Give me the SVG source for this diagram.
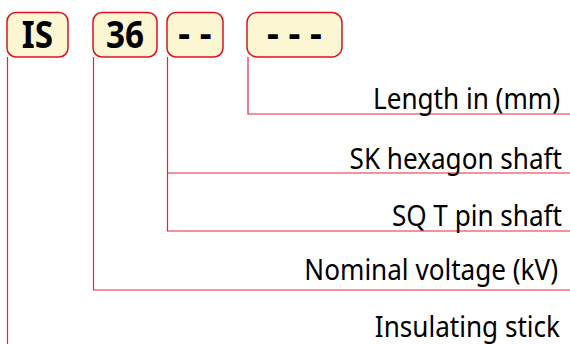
<svg xmlns="http://www.w3.org/2000/svg" width="570" height="344" viewBox="0 0 570 344">
<style>
.box{fill:#fdf6d2;stroke:#e3101e;stroke-width:1.5}
.code{font-family:"Noto Sans","DejaVu Sans",sans-serif;font-weight:bold;font-size:37px;fill:#000}
.lbl{font-family:"Noto Sans","DejaVu Sans",sans-serif;font-size:29px;fill:#000}
.ln{fill:none;stroke:#e4263a;stroke-width:1.2}
</style>
<rect width="570" height="344" fill="#fff"/>
<g id="connectors">
<path class="ln" d="M7.5 57V344"/>
<path class="ln" d="M93.5 57V290H570"/>
<path class="ln" d="M167.5 57V231H570M167.5 173H570"/>
<path class="ln" d="M248 57V114H570"/>
</g>
<g id="node-is">
<rect class="box" x="7" y="12.5" width="61" height="44.5" rx="9"/>
<text class="code" transform="translate(37.5,47.5) scale(0.9,1)" text-anchor="middle">IS</text>
</g>
<g id="node-36">
<rect class="box" x="93" y="12.5" width="64" height="44.5" rx="9"/>
<text class="code" transform="translate(125,47.5) scale(0.9,1)" text-anchor="middle">36</text>
</g>
<g id="node-shaft">
<rect class="box" x="167" y="12.5" width="56" height="44.5" rx="9"/>
<text class="code" x="195" y="47" text-anchor="middle">- -</text>
</g>
<g id="node-length">
<rect class="box" x="247" y="12.5" width="95" height="44.5" rx="10"/>
<text class="code" x="294.5" y="47" text-anchor="middle">- - -</text>
</g>
<g id="labels">
<text class="lbl" transform="translate(560,108.5) scale(0.9,1)" text-anchor="end">Length in (mm)</text>
<text class="lbl" transform="translate(562,168.5) scale(0.9,1)" text-anchor="end">SK hexagon shaft</text>
<text class="lbl" transform="translate(562,225.5) scale(0.9,1)" text-anchor="end">SQ T pin shaft</text>
<text class="lbl" transform="translate(558,279.5) scale(0.9,1)" text-anchor="end">Nominal voltage (kV)</text>
<text class="lbl" transform="translate(560,337) scale(0.9,1)" text-anchor="end">Insulating stick</text>
</g>
</svg>
